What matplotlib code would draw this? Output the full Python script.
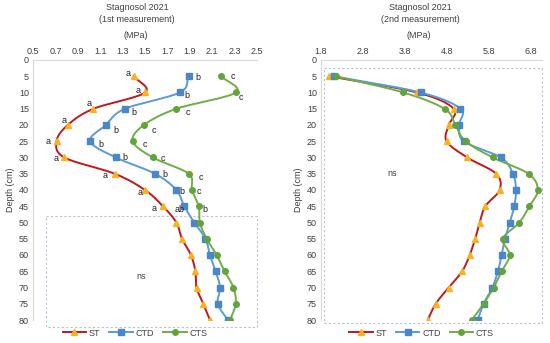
import numpy as np
import matplotlib
matplotlib.use("Agg")
import matplotlib.pyplot as plt
from matplotlib.patches import Rectangle

plt.rcParams["font.family"] = ["Liberation Sans", "DejaVu Sans"]

depth = [5, 10, 15, 20, 25, 30, 35, 40, 45, 50, 55, 60, 65, 70, 75, 80]

# 1st measurement (MPa)
st_1 = [1.40, 1.50, 1.04, 0.81, 0.71, 0.78, 1.23, 1.50, 1.66, 1.78, 1.83, 1.91, 1.95, 1.96, 2.02, 2.08]
ctd_1 = [1.89, 1.81, 1.32, 1.15, 1.01, 1.24, 1.59, 1.78, 1.85, 1.94, 2.04, 2.08, 2.13, 2.17, 2.15, 2.24]
cts_1 = [2.18, 2.31, 1.78, 1.49, 1.39, 1.57, 1.89, 1.92, 1.98, 1.99, 2.05, 2.14, 2.21, 2.29, 2.31, 2.26]

# 2nd measurement (MPa)
st_2 = [2.00, 4.09, 4.96, 4.84, 4.79, 5.28, 5.97, 6.05, 5.71, 5.58, 5.47, 5.34, 5.16, 4.84, 4.53, 4.34]
ctd_2 = [2.10, 4.17, 5.12, 5.09, 5.20, 6.08, 6.37, 6.44, 6.40, 6.29, 6.18, 6.10, 6.01, 5.88, 5.67, 5.53]
cts_2 = [2.16, 3.76, 4.74, 5.00, 5.24, 5.89, 6.74, 6.96, 6.76, 6.52, 6.13, 6.29, 6.10, 5.91, 5.67, 5.39]

# significance letters (1st measurement, 5-45 cm)
st_letters = ["a"] * 9
ctd_letters = ["b"] * 8 + ["ab"]
cts_letters = ["c"] * 8 + ["b"]

names = ["ST", "CTD", "CTS"]
line_colors = ["#C0181E", "#5B9BD5", "#70AD47"]
marker_colors = ["#F5B324", "#4A86C8", "#62A33E"]
markers = ["^", "s", "o"]
text_col = "#404040"
spine_col = "#D9D9D9"
box_col = "#B8C4D6"

# pixel offsets of letters relative to the markers
st_off = [(-6, 3), (-7, 2), (-4, 5), (-4, 4), (-8, 0), (-8, -1), (-10, -2), (-5, -3), (-9, -2)]
ctd_off = [(9, -1), (7, -3), (9, -4), (10, -6), (11, -3), (9, 0), (10, -1), (6, -2), (-5, -3)]
cts_off = [(12, 0), (5, -5), (12, -4), (10, -6), (12, -3), (10, -1), (12, -4), (7, -2), (6, -3)]


def smooth(x, y, n=16):
    p = np.column_stack([x, y]).astype(float)
    p = np.vstack([2 * p[0] - p[1], p, 2 * p[-1] - p[-2]])
    out = []
    t = np.linspace(0, 1, n, endpoint=False)[:, None]
    for i in range(1, len(p) - 2):
        p0, p1, p2, p3 = p[i - 1], p[i], p[i + 1], p[i + 2]
        seg = 0.5 * ((2 * p1) + (-p0 + p2) * t + (2 * p0 - 5 * p1 + 4 * p2 - p3) * t ** 2
                     + (-p0 + 3 * p1 - 3 * p2 + p3) * t ** 3)
        out.append(seg)
    out.append(p[-2][None, :])
    out = np.vstack(out)
    return out[:, 0], out[:, 1]


fig = plt.figure(figsize=(5.5, 3.43), dpi=100)
ax1 = fig.add_axes([33 / 550, 1 - 320 / 343, 224 / 550, 260 / 343])
ax2 = fig.add_axes([321 / 550, 1 - 320 / 343, 221 / 550, 260 / 343])


def draw(ax, series):
    handles = []
    for vals, name, lc, mc, mk in zip(series, names, line_colors, marker_colors, markers):
        sx, sy = smooth(vals, depth)
        ax.plot(sx, sy, color=lc, lw=1.4, zorder=2)
        ax.plot(vals, depth, ls="none", marker=mk, ms=4, color=mc, zorder=3)
        h, = ax.plot([], [], color=lc, lw=1.4, marker=mk, ms=4, mfc=mc, mec=mc, label=name)
        handles.append(h)
    ax.set_ylim(80, 0)
    ax.set_yticks(range(0, 81, 5))
    ax.xaxis.tick_top()
    ax.tick_params(length=0, labelsize=6.5, colors=text_col, pad=3)
    for s in ["right", "bottom"]:
        ax.spines[s].set_visible(False)
    for s in ["top", "left"]:
        ax.spines[s].set_color(spine_col)
        ax.spines[s].set_linewidth(0.8)
    ax.set_ylabel("Depth (cm)", fontsize=6.5, color=text_col, labelpad=3)
    ax.legend(handles=handles, loc="center", bbox_to_anchor=(0.455, -0.05), ncol=3,
              frameon=False, fontsize=6.5, handlelength=2.6, columnspacing=1.0,
              handletextpad=0.3, labelcolor=text_col)


draw(ax1, [st_1, ctd_1, cts_1])
ax1.set_xlim(0.5, 2.5)
ax1.set_xticks(np.round(np.arange(0.5, 2.51, 0.2), 1))
ax1.add_patch(Rectangle((0.62, 48), 2.5 - 0.62, 34, fill=False, ec=box_col, lw=0.8,
                        ls=(0, (2, 2)), clip_on=False, zorder=1))
ax1.text(1.47, 66.5, "ns", fontsize=6.5, color=text_col, ha="center", va="center")

for vals, letters, offs in [(st_1, st_letters, st_off), (ctd_1, ctd_letters, ctd_off),
                            (cts_1, cts_letters, cts_off)]:
    for v, d, lab, off in zip(vals, depth, letters, offs):
        ax1.annotate(lab, (v, d), xytext=off, textcoords="offset pixels", fontsize=6.5,
                     color="#202020", ha="center", va="center")

draw(ax2, [st_2, ctd_2, cts_2])
ax2.set_xlim(1.8, 7.06)
ax2.set_xticks([1.8, 2.8, 3.8, 4.8, 5.8, 6.8])
ax2.add_patch(Rectangle((1.88, 2.5), 7.06 - 1.88, 78.5, fill=False, ec=box_col, lw=0.8,
                        ls=(0, (2, 2)), clip_on=False, zorder=1))
ax2.text(3.5, 35, "ns", fontsize=6.5, color=text_col, ha="center", va="center")

for xc, sub in [(137, "(1st measurement)"), (420, "(2nd measurement)")]:
    fig.text(xc / 550, 1 - 8 / 343, "Stagnosol 2021", fontsize=6.5, color=text_col,
             ha="center", va="center")
    fig.text(xc / 550, 1 - 19 / 343, sub, fontsize=6.5, color=text_col, ha="center", va="center")
    fig.text((xc - 1) / 550, 1 - 35 / 343, "(MPa)", fontsize=6.5, color=text_col,
             ha="center", va="center")

fig.savefig("out.png", dpi=100)
